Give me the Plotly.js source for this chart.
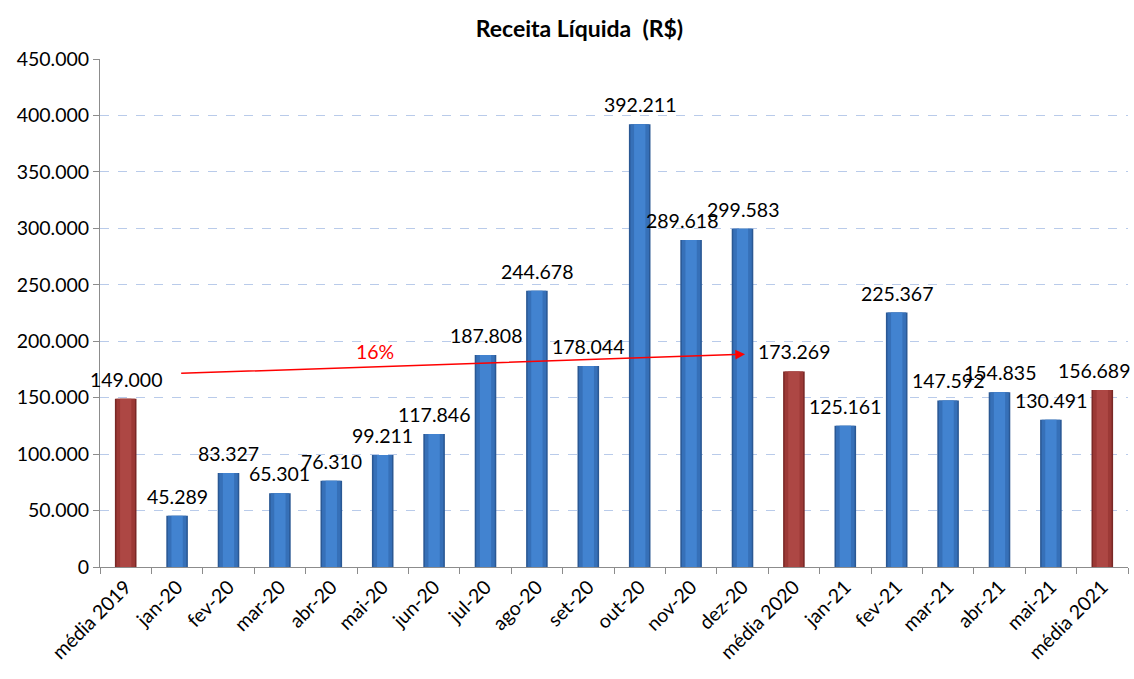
<!DOCTYPE html>
<html>
<head>
<meta charset="utf-8">
<script src="https://cdn.plot.ly/plotly-3.0.1.min.js"></script>
<style>html,body{margin:0;padding:0;background:#fff;}#chart{width:1134px;height:679px;}</style>
</head>
<body>
<div id="chart"></div>
<script>
const categories = ["média 2019","jan-20","fev-20","mar-20","abr-20","mai-20","jun-20","jul-20","ago-20","set-20","out-20","nov-20","dez-20","média 2020","jan-21","fev-21","mar-21","abr-21","mai-21","média 2021"];
const values = [149000,45289,83327,65301,76310,99211,117846,187808,244678,178044,392211,289618,299583,173269,125161,225367,147592,154835,130491,156689];
const isAverage = [true,false,false,false,false,false,false,false,false,false,false,false,false,true,false,false,false,false,false,true];
const growthLabel = "16%";

const fmt = v => v.toLocaleString('de-DE');
const pick = (a, b) => isAverage.map(m => m ? a : b);

const layers = [
  {w: 0.42, c: pick('#7a2826', '#2a5894')},
  {w: 0.36, c: pick('#9c3936', '#3670b8')},
  {w: 0.22, c: pick('#ad4744', '#4283d0')}
];
const traces = layers.map(L => ({
  type: 'bar', x: categories, y: values, width: L.w,
  marker: {color: L.c, line: {width: 0}},
  hoverinfo: 'skip', showlegend: false
}));

const FONT = 'Lato, "Open Sans", sans-serif';
const labelShift = categories.map(c => c === 'nov-20' ? -9 : (c === 'média 2021' ? -8 : 0));
const annotations = categories.map((c, i) => ({
  x: c, y: values[i], xref: 'x', yref: 'y', text: fmt(values[i]),
  showarrow: false, yanchor: 'bottom', yshift: 6, xshift: labelShift[i],
  font: {family: FONT, size: 19.5, color: '#000'}
}));
// growth arrow from média 2019 level to média 2020 level
annotations.push({
  xref: 'x', yref: 'y', x: 12.05, y: 188500, ax: 1.05, ay: 171500,
  axref: 'x', ayref: 'y', text: '', showarrow: true,
  arrowhead: 2, arrowsize: 1.3, arrowwidth: 1.5, arrowcolor: '#ff0000'
});
annotations.push({
  xref: 'x', yref: 'y', x: 4.85, y: 190500, text: growthLabel, showarrow: false,
  font: {family: FONT, size: 19.5, color: '#ff0000'}
});

const layout = {
  width: 1134, height: 679,
  margin: {l: 100, r: 6, t: 59, b: 112},
  paper_bgcolor: '#ffffff', plot_bgcolor: '#ffffff',
  separators: ',.',
  barmode: 'overlay',
  title: {text: '<b>Receita Líquida  (R$)</b>', x: 0.511, xanchor: 'center', y: 0.958, yanchor: 'middle',
          font: {family: FONT, size: 23, color: '#000'}},
  xaxis: {
    type: 'category', range: [-0.5, 19.5], showgrid: false,
    showline: true, linecolor: '#8c8c8c', linewidth: 1,
    ticks: 'outside', tickson: 'boundaries', ticklen: 6, tickcolor: '#8c8c8c',
    tickangle: -45, tickfont: {family: FONT, size: 19.5, color: '#000'}
  },
  yaxis: {
    range: [0, 450000], dtick: 50000, tickformat: ',d',
    showline: true, linecolor: '#8c8c8c', linewidth: 1,
    ticks: 'outside', ticklen: 6, tickcolor: '#8c8c8c',
    showgrid: true, gridcolor: '#b9cbea', griddash: 'dash', gridwidth: 1,
    zeroline: false,
    tickfont: {family: FONT, size: 19.5, color: '#000'}
  },
  annotations: annotations
};

Plotly.newPlot('chart', traces, layout, {displayModeBar: false, staticPlot: true});
</script>
</body>
</html>
